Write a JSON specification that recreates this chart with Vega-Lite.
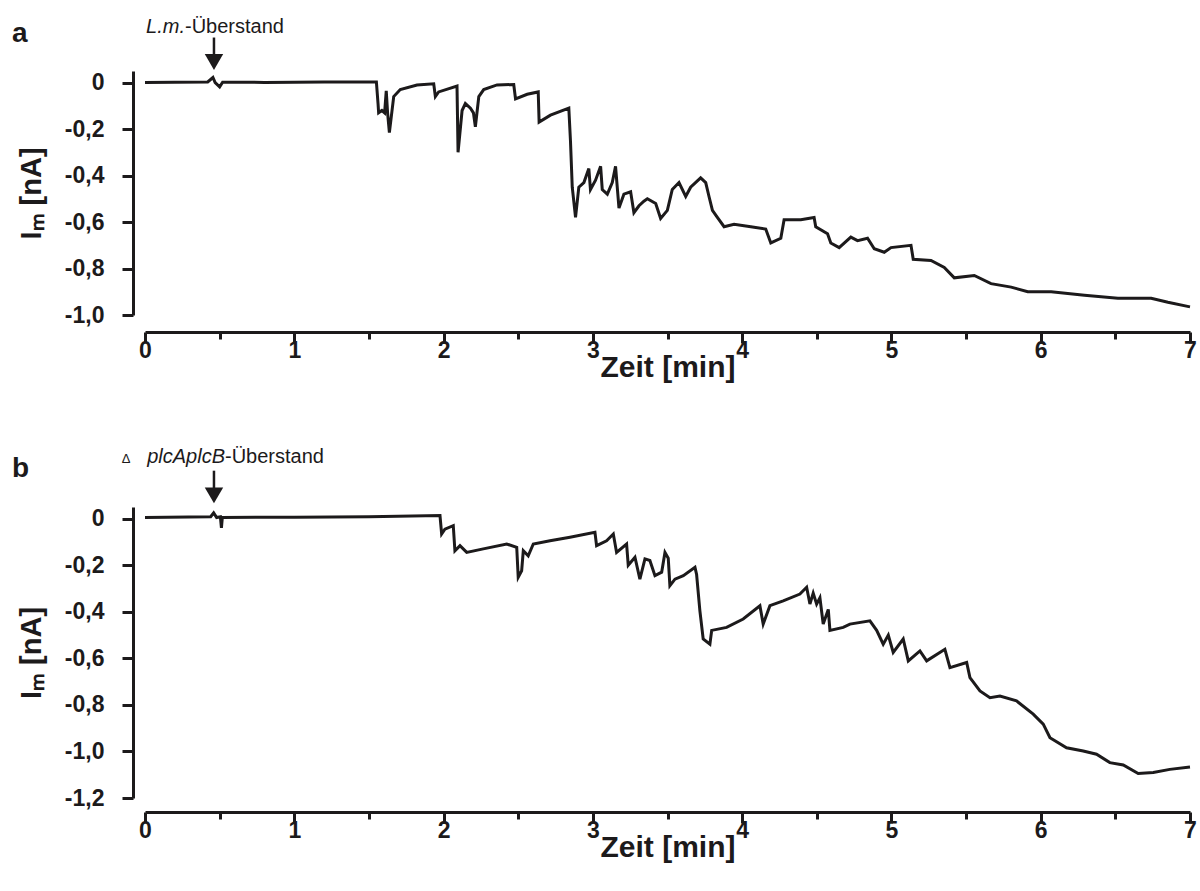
{
  "$schema": "https://vega.github.io/schema/vega-lite/v6.json",
  "background": "white",
  "padding": {"left": 12, "top": 16, "right": 5, "bottom": 5},
  "config": {
    "font": "Liberation Sans",
    "view": {"stroke": null},
    "concat": {"spacing": 65},
    "axis": {"grid": false, "domainColor": "#1c1a1b", "tickColor": "#1c1a1b", "labelColor": "#1c1a1b", "titleColor": "#1c1a1b", "domainWidth": 3, "tickWidth": 3, "labelFontWeight": "bold", "titleFontWeight": "bold", "labelFont": "Liberation Sans", "titleFont": "Liberation Sans", "labelFlush": false},
    "title": {"font": "Liberation Sans", "color": "#1c1a1b"}
  },
  "datasets": {
    "a": [
      {"t": 0, "I": 0}, {"t": 0.2, "I": 0.002}, {"t": 0.42, "I": 0.003}, {"t": 0.455, "I": 0.022}, {"t": 0.47, "I": 0.0}, {"t": 0.5, "I": -0.018}, {"t": 0.52, "I": 0.002}, {"t": 0.8, "I": 0.001}, {"t": 1.2, "I": 0.003}, {"t": 1.55, "I": 0.003},
      {"t": 1.561, "I": -0.09}, {"t": 1.565, "I": -0.13}, {"t": 1.587, "I": -0.12}, {"t": 1.605, "I": -0.13}, {"t": 1.616, "I": -0.035}, {"t": 1.625, "I": -0.13}, {"t": 1.637, "I": -0.215}, {"t": 1.666, "I": -0.06}, {"t": 1.71, "I": -0.03}, {"t": 1.822, "I": -0.01}, {"t": 1.934, "I": -0.005}, {"t": 1.945, "I": -0.06}, {"t": 1.967, "I": -0.04}, {"t": 2.09, "I": -0.015},
      {"t": 2.097, "I": -0.3}, {"t": 2.124, "I": -0.12}, {"t": 2.146, "I": -0.09}, {"t": 2.18, "I": -0.11}, {"t": 2.2, "I": -0.13}, {"t": 2.213, "I": -0.19}, {"t": 2.236, "I": -0.06}, {"t": 2.269, "I": -0.03}, {"t": 2.358, "I": -0.01}, {"t": 2.47, "I": -0.008},
      {"t": 2.482, "I": -0.07}, {"t": 2.56, "I": -0.05}, {"t": 2.634, "I": -0.04}, {"t": 2.64, "I": -0.17}, {"t": 2.716, "I": -0.14}, {"t": 2.839, "I": -0.11},
      {"t": 2.85, "I": -0.25}, {"t": 2.862, "I": -0.45}, {"t": 2.884, "I": -0.58}, {"t": 2.906, "I": -0.45}, {"t": 2.94, "I": -0.43}, {"t": 2.973, "I": -0.37}, {"t": 2.984, "I": -0.46}, {"t": 3.018, "I": -0.42}, {"t": 3.052, "I": -0.36}, {"t": 3.063, "I": -0.46}, {"t": 3.097, "I": -0.48}, {"t": 3.13, "I": -0.43}, {"t": 3.152, "I": -0.36}, {"t": 3.175, "I": -0.54}, {"t": 3.208, "I": -0.48}, {"t": 3.253, "I": -0.47}, {"t": 3.275, "I": -0.56}, {"t": 3.309, "I": -0.53}, {"t": 3.342, "I": -0.51}, {"t": 3.365, "I": -0.5}, {"t": 3.421, "I": -0.52}, {"t": 3.454, "I": -0.585}, {"t": 3.499, "I": -0.55}, {"t": 3.532, "I": -0.46}, {"t": 3.577, "I": -0.43}, {"t": 3.622, "I": -0.49}, {"t": 3.655, "I": -0.45}, {"t": 3.722, "I": -0.41}, {"t": 3.756, "I": -0.43}, {"t": 3.778, "I": -0.49}, {"t": 3.801, "I": -0.55}, {"t": 3.834, "I": -0.58}, {"t": 3.879, "I": -0.62}, {"t": 3.946, "I": -0.61}, {"t": 4.058, "I": -0.62}, {"t": 4.158, "I": -0.63}, {"t": 4.192, "I": -0.69}, {"t": 4.259, "I": -0.67}, {"t": 4.281, "I": -0.59}, {"t": 4.393, "I": -0.59}, {"t": 4.482, "I": -0.58}, {"t": 4.493, "I": -0.62}, {"t": 4.572, "I": -0.65}, {"t": 4.594, "I": -0.69}, {"t": 4.65, "I": -0.71}, {"t": 4.728, "I": -0.665}, {"t": 4.773, "I": -0.68}, {"t": 4.84, "I": -0.67}, {"t": 4.885, "I": -0.715}, {"t": 4.952, "I": -0.73}, {"t": 4.997, "I": -0.71}, {"t": 5.131, "I": -0.7}, {"t": 5.146, "I": -0.76}, {"t": 5.265, "I": -0.765}, {"t": 5.354, "I": -0.795}, {"t": 5.421, "I": -0.84}, {"t": 5.555, "I": -0.83}, {"t": 5.667, "I": -0.865}, {"t": 5.802, "I": -0.88}, {"t": 5.913, "I": -0.9}, {"t": 6.07, "I": -0.9}, {"t": 6.293, "I": -0.915}, {"t": 6.517, "I": -0.928}, {"t": 6.74, "I": -0.928}, {"t": 6.852, "I": -0.945}, {"t": 7.0, "I": -0.965}
    ],
    "b": [
      {"t": 0, "I": 0.005}, {"t": 0.44, "I": 0.008}, {"t": 0.46, "I": 0.025}, {"t": 0.48, "I": 0.005}, {"t": 0.505, "I": 0.008}, {"t": 0.512, "I": -0.04}, {"t": 0.518, "I": 0.005}, {"t": 1.0, "I": 0.006}, {"t": 1.5, "I": 0.008}, {"t": 1.976, "I": 0.013},
      {"t": 1.987, "I": -0.066}, {"t": 2.009, "I": -0.045}, {"t": 2.065, "I": -0.03}, {"t": 2.076, "I": -0.138}, {"t": 2.11, "I": -0.116}, {"t": 2.155, "I": -0.145}, {"t": 2.266, "I": -0.13}, {"t": 2.423, "I": -0.109}, {"t": 2.49, "I": -0.123}, {"t": 2.5, "I": -0.252}, {"t": 2.523, "I": -0.224}, {"t": 2.534, "I": -0.138}, {"t": 2.567, "I": -0.16}, {"t": 2.601, "I": -0.109}, {"t": 2.713, "I": -0.095}, {"t": 2.847, "I": -0.08}, {"t": 3.014, "I": -0.059},
      {"t": 3.025, "I": -0.116}, {"t": 3.092, "I": -0.095}, {"t": 3.137, "I": -0.066}, {"t": 3.159, "I": -0.145}, {"t": 3.226, "I": -0.109}, {"t": 3.237, "I": -0.2}, {"t": 3.282, "I": -0.166}, {"t": 3.315, "I": -0.26}, {"t": 3.349, "I": -0.173}, {"t": 3.382, "I": -0.18}, {"t": 3.416, "I": -0.245}, {"t": 3.461, "I": -0.23}, {"t": 3.483, "I": -0.145}, {"t": 3.505, "I": -0.17}, {"t": 3.516, "I": -0.288}, {"t": 3.55, "I": -0.26}, {"t": 3.606, "I": -0.245}, {"t": 3.684, "I": -0.209}, {"t": 3.695, "I": -0.24},
      {"t": 3.717, "I": -0.396}, {"t": 3.739, "I": -0.517}, {"t": 3.784, "I": -0.539}, {"t": 3.796, "I": -0.48}, {"t": 3.896, "I": -0.467}, {"t": 4.007, "I": -0.431}, {"t": 4.119, "I": -0.374}, {"t": 4.141, "I": -0.453}, {"t": 4.186, "I": -0.374}, {"t": 4.275, "I": -0.353}, {"t": 4.387, "I": -0.324}, {"t": 4.432, "I": -0.295}, {"t": 4.454, "I": -0.367}, {"t": 4.476, "I": -0.32}, {"t": 4.499, "I": -0.367}, {"t": 4.521, "I": -0.34}, {"t": 4.543, "I": -0.453}, {"t": 4.577, "I": -0.39}, {"t": 4.588, "I": -0.48}, {"t": 4.677, "I": -0.467}, {"t": 4.722, "I": -0.453}, {"t": 4.856, "I": -0.439}, {"t": 4.901, "I": -0.48}, {"t": 4.945, "I": -0.539}, {"t": 4.979, "I": -0.5}, {"t": 5.012, "I": -0.575}, {"t": 5.079, "I": -0.517}, {"t": 5.113, "I": -0.611}, {"t": 5.191, "I": -0.568}, {"t": 5.236, "I": -0.611}, {"t": 5.358, "I": -0.561}, {"t": 5.392, "I": -0.64}, {"t": 5.504, "I": -0.618}, {"t": 5.526, "I": -0.683}, {"t": 5.593, "I": -0.74}, {"t": 5.66, "I": -0.769}, {"t": 5.727, "I": -0.762}, {"t": 5.838, "I": -0.783}, {"t": 5.95, "I": -0.84}, {"t": 6.017, "I": -0.883}, {"t": 6.062, "I": -0.941}, {"t": 6.173, "I": -0.984}, {"t": 6.285, "I": -0.998}, {"t": 6.374, "I": -1.012}, {"t": 6.463, "I": -1.048}, {"t": 6.553, "I": -1.058}, {"t": 6.653, "I": -1.095}, {"t": 6.754, "I": -1.09}, {"t": 6.865, "I": -1.077}, {"t": 7.0, "I": -1.067}
    ]
  },
  "vconcat": [
    {
      "width": 1045,
      "height": 244,
      "title": {"text": "a", "anchor": "start", "frame": "group", "dx": -133, "dy": 59, "offset": 28, "fontSize": 28, "fontWeight": "bold"},
      "layer": [
        {
          "data": {"name": "a"},
          "mark": {"type": "line", "color": "#1c1a1b", "strokeWidth": 3},
          "encoding": {
            "x": {"field": "t", "type": "quantitative", "scale": {"domain": [0, 7], "nice": false, "zero": false},
              "axis": {"title": "Zeit [min]", "values": [0, 0.5, 1, 1.5, 2, 2.5, 3, 3.5, 4, 4.5, 5, 5.5, 6, 6.5, 7], "labelExpr": "datum.value % 1 === 0 ? format(datum.value, 'd') : ''", "tickSize": {"condition": {"test": "datum.value % 1 !== 0", "value": 7}, "value": 11}, "offset": 17, "labelFontSize": 23, "labelPadding": -4, "titleFontSize": 30, "titlePadding": -10}},
            "y": {"field": "I", "type": "quantitative", "scale": {"domain": [-1, 0.05], "nice": false, "zero": false},
              "axis": {"title": "Iₘ [nA]", "values": [-1, -0.8, -0.6, -0.4, -0.2, 0], "labelExpr": "datum.value === 0 ? '0' : '-' + replace(format(abs(datum.value), '.1f'), '.', ',')", "tickSize": 11, "offset": 12, "labelFontSize": 23, "labelPadding": 18, "titleFontSize": 29, "titlePadding": 18}}
          }
        },
        {
          "data": {"values": [{"t": 0.462, "y1": 0.194, "y2": 0.09}]},
          "mark": {"type": "rule", "color": "#1c1a1b", "strokeWidth": 2.5},
          "encoding": {"x": {"field": "t", "type": "quantitative"}, "y": {"field": "y1", "type": "quantitative"}, "y2": {"field": "y2"}}
        },
        {
          "data": {"values": [{"t": 0.462, "y": 0.089}]},
          "mark": {"type": "point", "shape": "triangle-down", "filled": true, "size": 340, "color": "#1c1a1b", "opacity": 1},
          "encoding": {"x": {"field": "t", "type": "quantitative"}, "y": {"field": "y", "type": "quantitative"}}
        },
        {
          "data": {"values": [{"t": 0.268, "y": 0.215, "label": "L.m."}]},
          "mark": {"type": "text", "align": "right", "baseline": "alphabetic", "fontStyle": "italic", "fontSize": 20, "color": "#1c1a1b"},
          "encoding": {"x": {"field": "t", "type": "quantitative"}, "y": {"field": "y", "type": "quantitative"}, "text": {"field": "label"}}
        },
        {
          "data": {"values": [{"t": 0.268, "y": 0.215, "label": "-Überstand"}]},
          "mark": {"type": "text", "align": "left", "baseline": "alphabetic", "fontSize": 20, "color": "#1c1a1b"},
          "encoding": {"x": {"field": "t", "type": "quantitative"}, "y": {"field": "y", "type": "quantitative"}, "text": {"field": "label"}}
        }
      ]
    },
    {
      "width": 1045,
      "height": 291,
      "title": {"text": "b", "anchor": "start", "frame": "group", "dx": -133, "dy": 64, "offset": 28, "fontSize": 28, "fontWeight": "bold"},
      "layer": [
        {
          "data": {"name": "b"},
          "mark": {"type": "line", "color": "#1c1a1b", "strokeWidth": 3},
          "encoding": {
            "x": {"field": "t", "type": "quantitative", "scale": {"domain": [0, 7], "nice": false, "zero": false},
              "axis": {"title": "Zeit [min]", "values": [0, 0.5, 1, 1.5, 2, 2.5, 3, 3.5, 4, 4.5, 5, 5.5, 6, 6.5, 7], "labelExpr": "datum.value % 1 === 0 ? format(datum.value, 'd') : ''", "tickSize": {"condition": {"test": "datum.value % 1 !== 0", "value": 7}, "value": 11}, "offset": 14, "labelFontSize": 23, "labelPadding": -4, "titleFontSize": 30, "titlePadding": -10}},
            "y": {"field": "I", "type": "quantitative", "scale": {"domain": [-1.2, 0.05], "nice": false, "zero": false},
              "axis": {"title": "Iₘ [nA]", "values": [-1.2, -1, -0.8, -0.6, -0.4, -0.2, 0], "labelExpr": "datum.value === 0 ? '0' : '-' + replace(format(abs(datum.value), '.1f'), '.', ',')", "tickSize": 11, "offset": 12, "labelFontSize": 23, "labelPadding": 18, "titleFontSize": 29, "titlePadding": 18}}
          }
        },
        {
          "data": {"values": [{"t": 0.462, "y1": 0.206, "y2": 0.1}]},
          "mark": {"type": "rule", "color": "#1c1a1b", "strokeWidth": 2.5},
          "encoding": {"x": {"field": "t", "type": "quantitative"}, "y": {"field": "y1", "type": "quantitative"}, "y2": {"field": "y2"}}
        },
        {
          "data": {"values": [{"t": 0.462, "y": 0.1}]},
          "mark": {"type": "point", "shape": "triangle-down", "filled": true, "size": 340, "color": "#1c1a1b", "opacity": 1},
          "encoding": {"x": {"field": "t", "type": "quantitative"}, "y": {"field": "y", "type": "quantitative"}}
        },
        {
          "data": {"values": [{"t": -0.156, "y": 0.238, "label": "Δ"}]},
          "mark": {"type": "text", "align": "left", "baseline": "alphabetic", "fontSize": 13, "color": "#1c1a1b"},
          "encoding": {"x": {"field": "t", "type": "quantitative"}, "y": {"field": "y", "type": "quantitative"}, "text": {"field": "label"}}
        },
        {
          "data": {"values": [{"t": 0.536, "y": 0.238, "label": "plcAplcB"}]},
          "mark": {"type": "text", "align": "right", "baseline": "alphabetic", "fontStyle": "italic", "fontSize": 20, "color": "#1c1a1b"},
          "encoding": {"x": {"field": "t", "type": "quantitative"}, "y": {"field": "y", "type": "quantitative"}, "text": {"field": "label"}}
        },
        {
          "data": {"values": [{"t": 0.536, "y": 0.238, "label": "-Überstand"}]},
          "mark": {"type": "text", "align": "left", "baseline": "alphabetic", "fontSize": 20, "color": "#1c1a1b"},
          "encoding": {"x": {"field": "t", "type": "quantitative"}, "y": {"field": "y", "type": "quantitative"}, "text": {"field": "label"}}
        }
      ]
    }
  ]
}
